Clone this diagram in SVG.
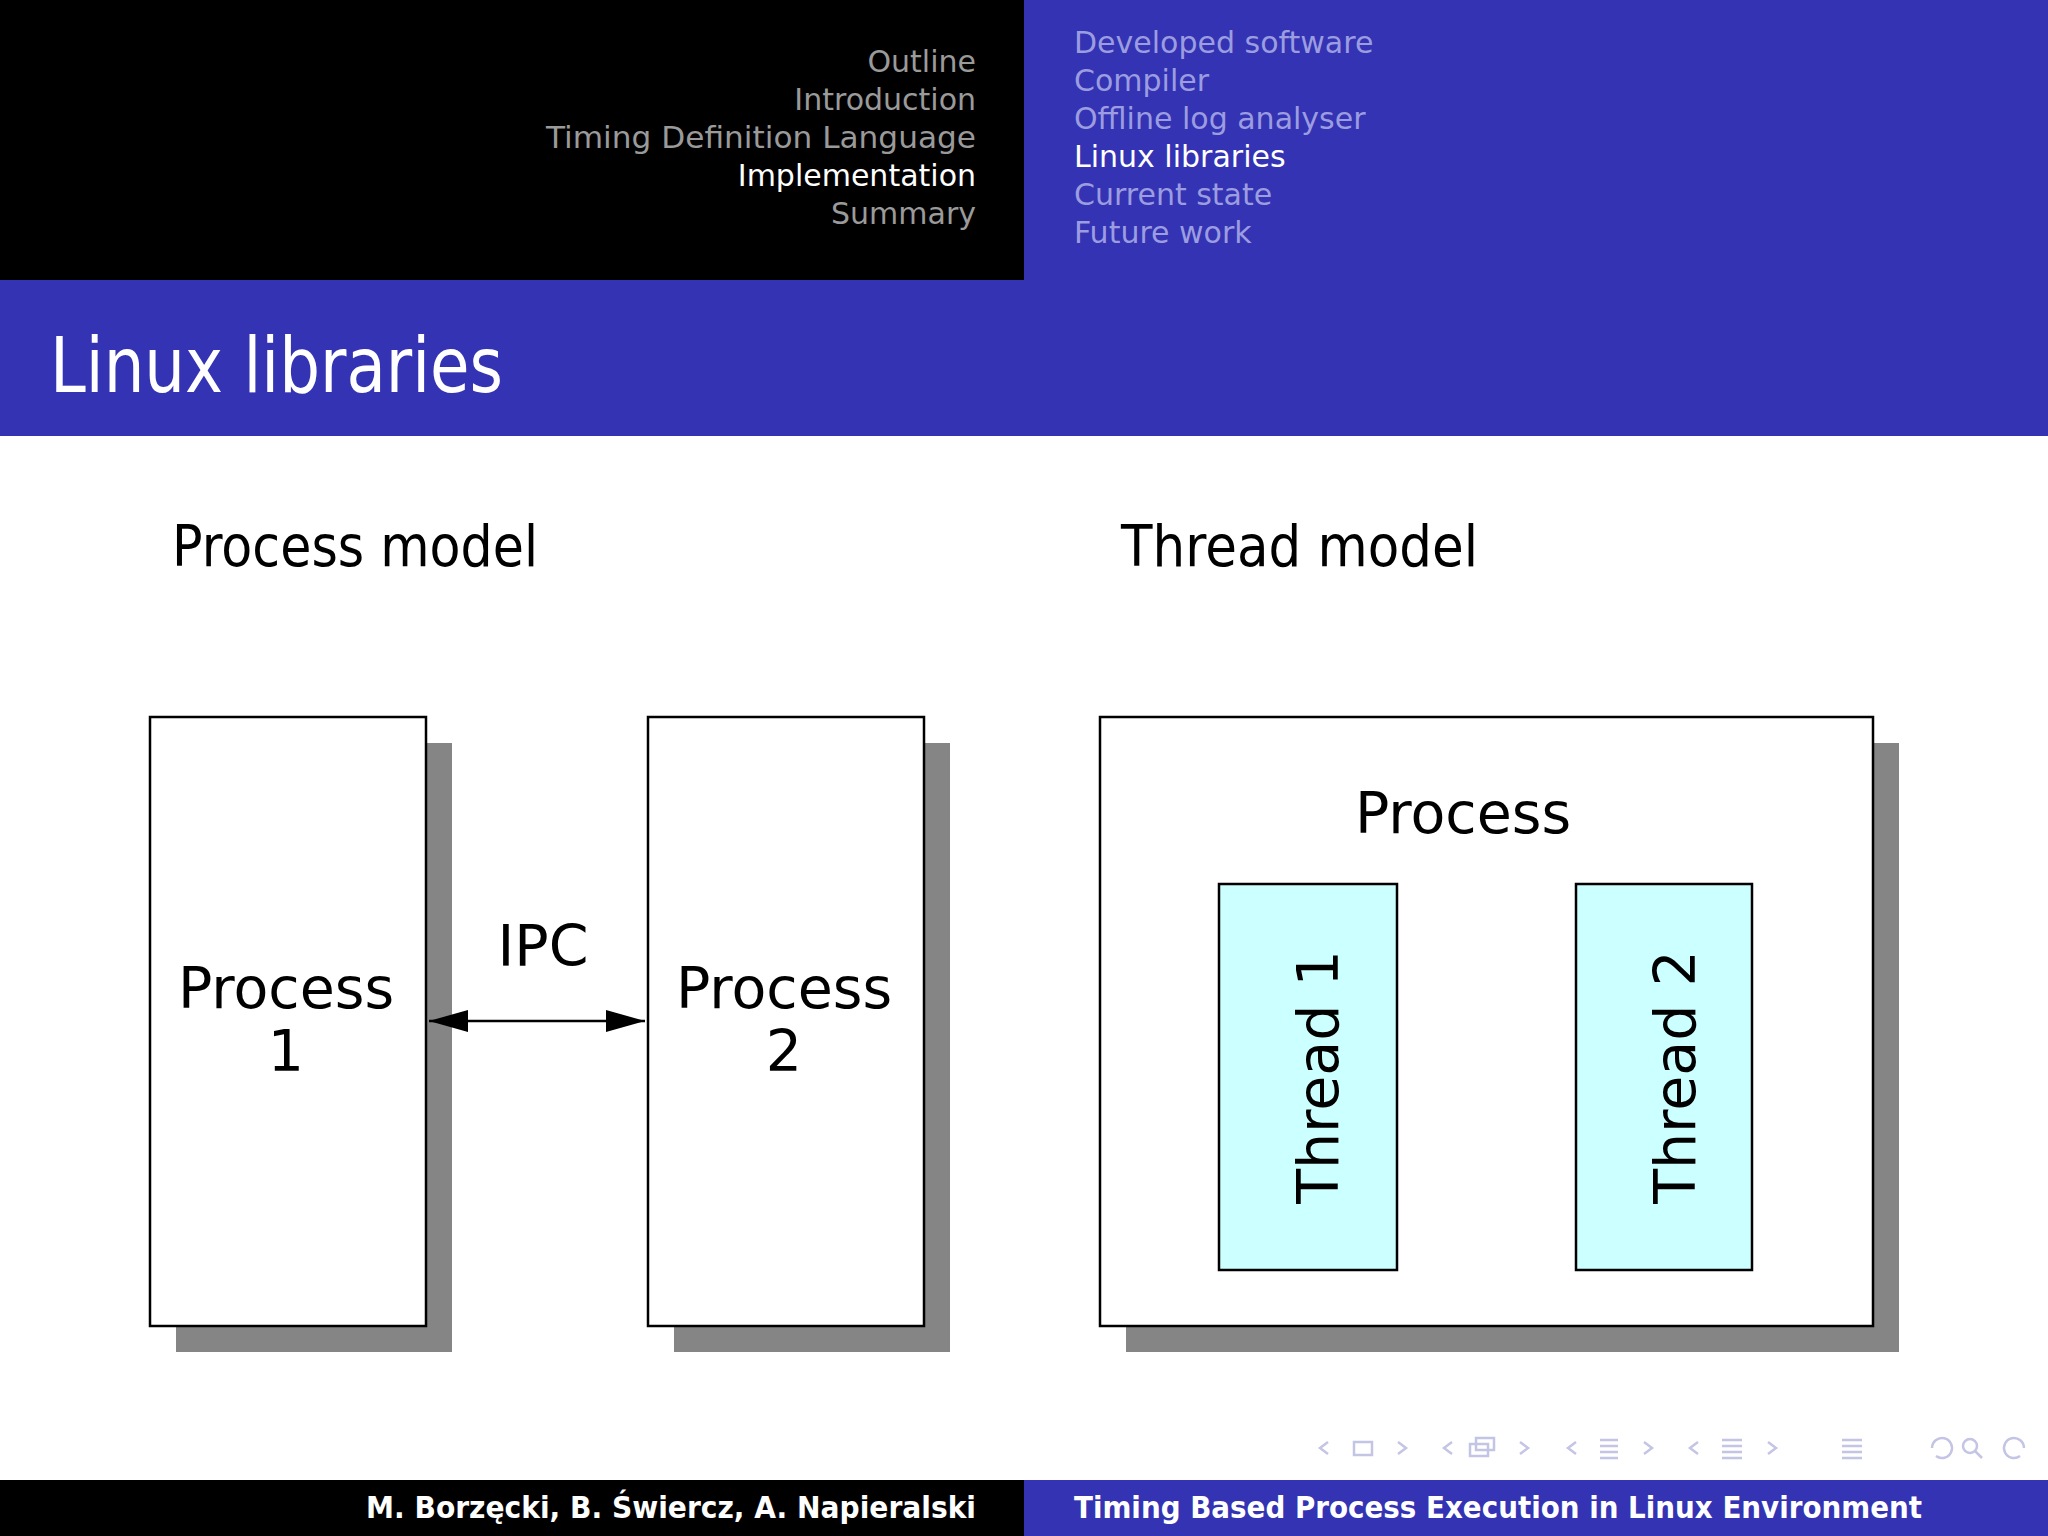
<svg xmlns="http://www.w3.org/2000/svg" width="2048" height="1536" viewBox="0 0 2048 1536">
<style>
text{font-family:"DejaVu Sans","Liberation Sans",sans-serif}
.nl{font-size:30px;fill:#9a9a9a;text-anchor:end}
.nr{font-size:30px;fill:#9c9ce0}
.box{fill:#fff;stroke:#000;stroke-width:2.5}
.sh{fill:#858585}
.th{fill:#ccffff;stroke:#000;stroke-width:2.5}
.bt{font-size:57px;fill:#000;text-anchor:middle}
.nav{fill:none;stroke:#c4c4e4;stroke-width:2.5}
</style>
<rect width="2048" height="1536" fill="#fff"/>
<rect x="0" y="0" width="1024" height="280" fill="#000"/>
<rect x="1024" y="0" width="1024" height="280" fill="#3333b3"/>
<rect x="0" y="280" width="2048" height="156" fill="#3333b3"/>
<text class="nl" x="976" y="72">Outline</text>
<text class="nl" x="976" y="110">Introduction</text>
<text class="nl" x="976" y="148" textLength="430" lengthAdjust="spacingAndGlyphs">Timing Definition Language</text>
<text class="nl" x="976" y="186" style="fill:#fff">Implementation</text>
<text class="nl" x="976" y="224">Summary</text>
<text class="nr" x="1074" y="53">Developed software</text>
<text class="nr" x="1074" y="91">Compiler</text>
<text class="nr" x="1074" y="129">Offline log analyser</text>
<text class="nr" x="1074" y="167" style="fill:#fff">Linux libraries</text>
<text class="nr" x="1074" y="205">Current state</text>
<text class="nr" x="1074" y="243">Future work</text>
<text x="50" y="392" font-size="76" fill="#fff" textLength="453" lengthAdjust="spacingAndGlyphs">Linux libraries</text>
<text x="172" y="566" font-size="57" textLength="366" lengthAdjust="spacingAndGlyphs">Process model</text>
<text x="1121" y="566" font-size="57" textLength="357" lengthAdjust="spacingAndGlyphs">Thread model</text>
<g id="process1"><rect class="sh" x="176" y="743" width="276" height="609"/><rect class="box" x="150" y="717" width="276" height="609"/><text class="bt" x="286" y="1008">Process</text><text class="bt" x="286" y="1071">1</text></g>
<g id="process2"><rect class="sh" x="674" y="743" width="276" height="609"/><rect class="box" x="648" y="717" width="276" height="609"/><text class="bt" x="784" y="1008">Process</text><text class="bt" x="784" y="1071">2</text></g>
<g id="process"><rect class="sh" x="1126" y="743" width="773" height="609"/><rect class="box" x="1100" y="717" width="773" height="609"/><text class="bt" x="1463" y="833">Process</text></g>
<g id="thread1"><rect class="th" x="1219" y="884" width="178" height="386"/><text class="bt" transform="translate(1338,1077) rotate(-90)" x="0" y="0">Thread 1</text></g>
<g id="thread2"><rect class="th" x="1576" y="884" width="176" height="386"/><text class="bt" transform="translate(1695,1077) rotate(-90)" x="0" y="0">Thread 2</text></g>
<g id="connectors"><line x1="429" y1="1021" x2="645" y2="1021" stroke="#000" stroke-width="2.5"/>
<path d="M429,1021 L468,1010 L468,1032 Z M645,1021 L606,1010 L606,1032 Z" fill="#000"/>
<text class="bt" x="543" y="966">IPC</text></g>
<g class="nav">
<path d="M1328,1442 l-8,6 l8,6"/><rect x="1354" y="1442" width="18" height="13"/><path d="M1398,1442 l8,6 l-8,6"/>
<path d="M1452,1442 l-8,6 l8,6"/><rect x="1470" y="1444" width="18" height="12"/><rect x="1476" y="1438" width="18" height="12"/><path d="M1520,1442 l8,6 l-8,6"/>
<path d="M1576,1442 l-8,6 l8,6"/><path d="M1600,1440 h18 M1600,1446 h18 M1600,1452 h18 M1600,1458 h18"/><path d="M1644,1442 l8,6 l-8,6"/>
<path d="M1698,1442 l-8,6 l8,6"/><path d="M1722,1440 h20 M1722,1446 h20 M1722,1452 h20 M1722,1458 h20"/><path d="M1768,1442 l8,6 l-8,6"/>
<path d="M1842,1440 h20 M1842,1446 h20 M1842,1452 h20 M1842,1458 h20"/>
<path d="M1932,1448 a10,10 0 1 1 4,8"/><circle cx="1970" cy="1446" r="7"/><path d="M1975,1451 l7,7"/><path d="M2024,1448 a10,10 0 1 0 -4,8"/>
</g>
<rect x="0" y="1480" width="1024" height="56" fill="#000"/>
<rect x="1024" y="1480" width="1024" height="56" fill="#3333b3"/>
<text x="976" y="1518" font-size="30" font-weight="bold" fill="#fff" text-anchor="end" textLength="610" lengthAdjust="spacingAndGlyphs">M. Borzęcki, B. Świercz, A. Napieralski</text>
<text x="1074" y="1518" font-size="30" font-weight="bold" fill="#fff" textLength="848" lengthAdjust="spacingAndGlyphs">Timing Based Process Execution in Linux Environment</text>
</svg>
